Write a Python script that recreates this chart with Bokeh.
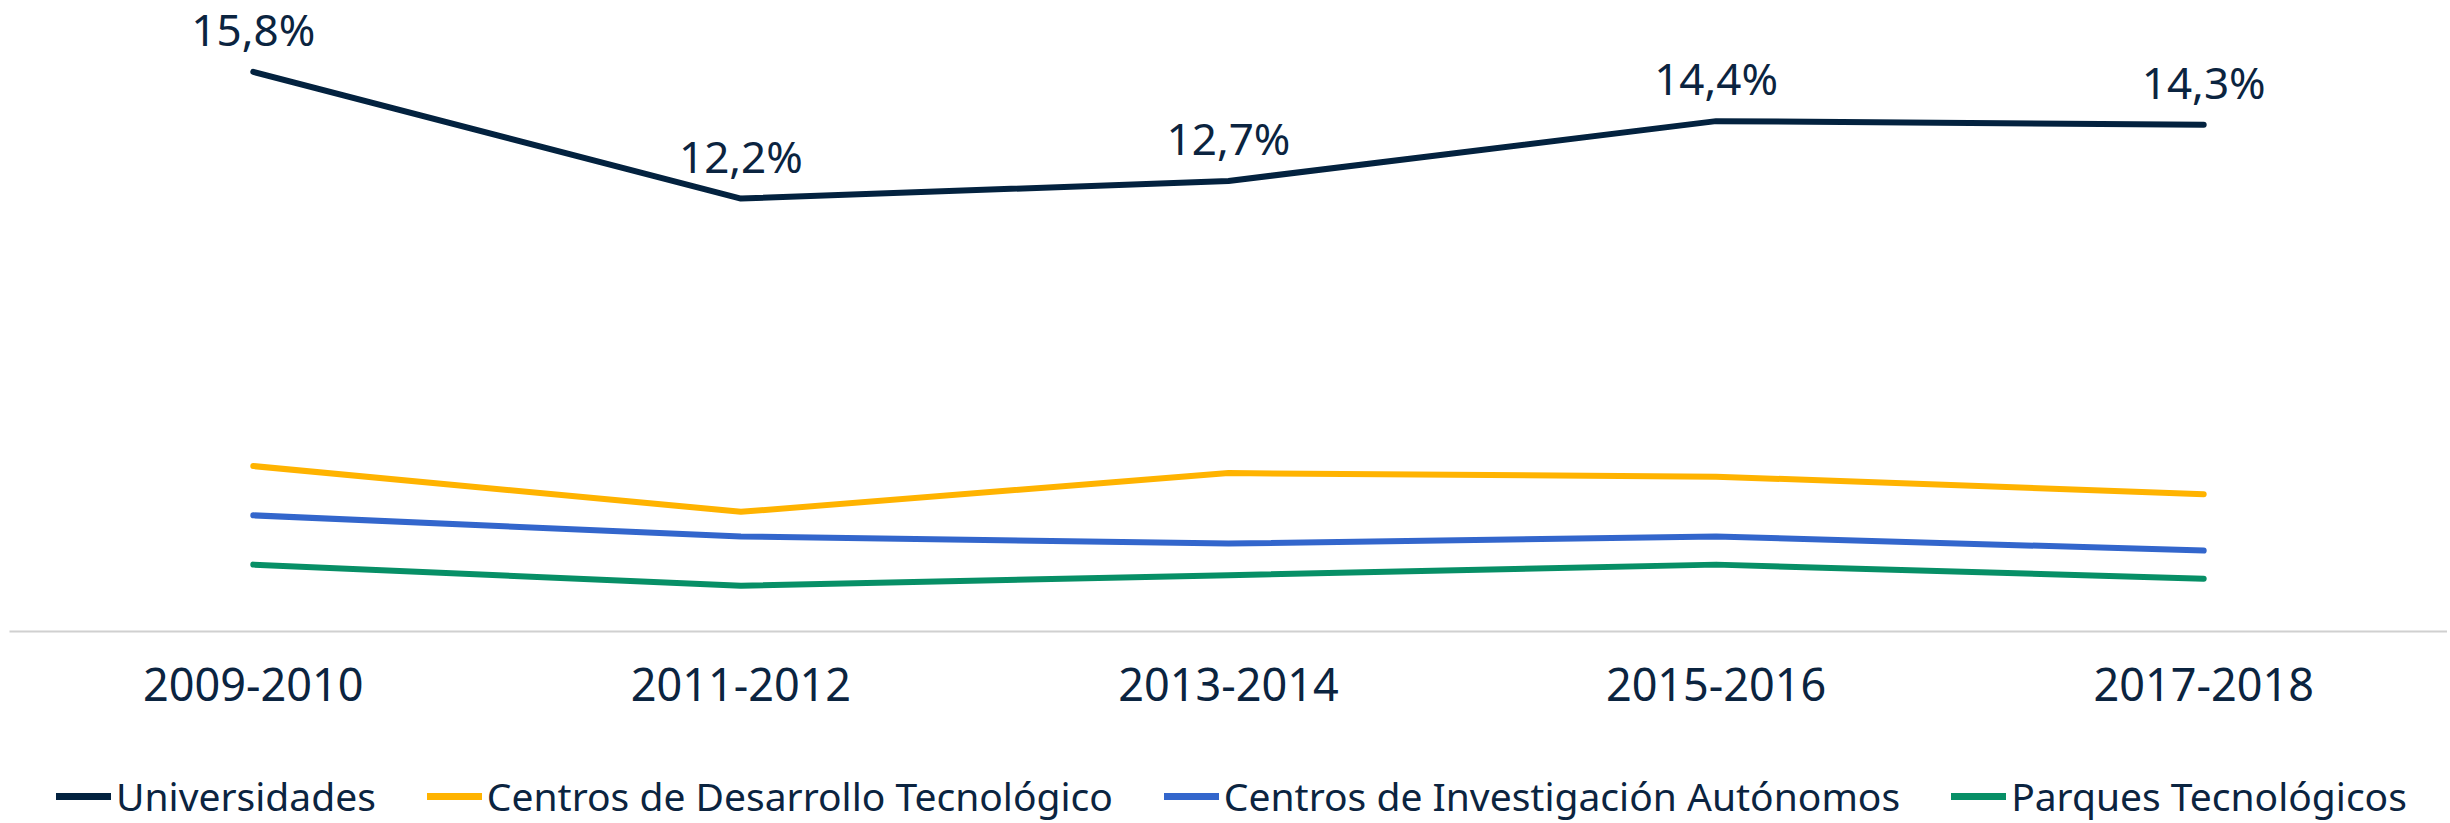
from bokeh.plotting import figure
from bokeh.layouts import column
from bokeh.models import ColumnDataSource, FactorRange, Range1d, Legend, LegendItem
from bokeh.core.properties import value
from bokeh.embed import file_html
from bokeh.resources import INLINE

periods = ["2009-2010", "2011-2012", "2013-2014", "2015-2016", "2017-2018"]
universidades = [15.8, 12.2, 12.7, 14.4, 14.3]
desarrollo = [4.6, 3.3, 4.4, 4.3, 3.8]
investigacion = [3.2, 2.6, 2.4, 2.6, 2.2]
parques = [1.8, 1.2, 1.5, 1.8, 1.4]
univ_labels = ["15,8%", "12,2%", "12,7%", "14,4%", "14,3%"]

series_names = ["Universidades", "Centros de Desarrollo Tecnológico",
                "Centros de Investigación Autónomos", "Parques Tecnológicos"]
colors = ["#03223F", "#FFB300", "#3366CC", "#078F66"]
series = [universidades, desarrollo, investigacion, parques]

FONT = "Noto Sans"
TEXT_COLOR = "#0B2440"

p = figure(width=2447, height=722, x_range=FactorRange(*periods),
           y_range=Range1d(-0.1, 17.6), output_backend="svg",
           toolbar_location=None, min_border_left=9, min_border_right=0,
           min_border_top=8, min_border_bottom=91)
p.outline_line_color = None
p.xgrid.grid_line_color = None
p.ygrid.grid_line_color = None
p.yaxis.visible = False
p.x_range.range_padding = 0

ax = p.xaxis[0]
ax.axis_line_color = "#D0D0D0"
ax.axis_line_width = 2
ax.major_tick_line_color = None
ax.minor_tick_line_color = None
ax.major_label_text_font = FONT
ax.major_label_text_font_size = "45px"
ax.major_label_text_color = TEXT_COLOR
ax.major_label_standoff = 30

for vals, col in zip(series, colors):
    src = ColumnDataSource(dict(x=periods, y=vals))
    p.line("x", "y", source=src, line_color=col, line_width=6, line_cap="round", line_join="round")

lab_src = ColumnDataSource(dict(x=periods, y=universidades, t=univ_labels))
p.text("x", "y", text="t", source=lab_src, text_font=value(FONT), text_font_size="44px",
       text_color=TEXT_COLOR, text_align="center", text_baseline="alphabetic", y_offset=-43)

# legend strip below the chart (series drawn out of view; only the swatches show)
lf = figure(width=2447, height=101, x_range=FactorRange(*periods), y_range=Range1d(100, 101),
            output_backend="svg", toolbar_location=None, min_border_left=0,
            min_border_right=0, min_border_top=0, min_border_bottom=0)
lf.axis.visible = False
lf.grid.visible = False
lf.outline_line_color = None
items = []
for name, vals, col in zip(series_names, series, colors):
    sw = lf.line(x=periods, y=vals, line_color=col, line_width=7, line_cap="round")
    items.append(LegendItem(label=name, renderers=[sw]))
legend = Legend(items=items, orientation="horizontal", location=(47, 1),
                label_text_font=FONT, label_text_font_size="39px",
                label_text_color=TEXT_COLOR, glyph_width=55, glyph_height=30,
                label_standoff=5, spacing=51, border_line_color=None,
                background_fill_alpha=0, padding=0, margin=0)
lf.add_layout(legend, "center")

layout = column(p, lf, spacing=0)
open("out.html", "w").write(file_html(layout, INLINE))
